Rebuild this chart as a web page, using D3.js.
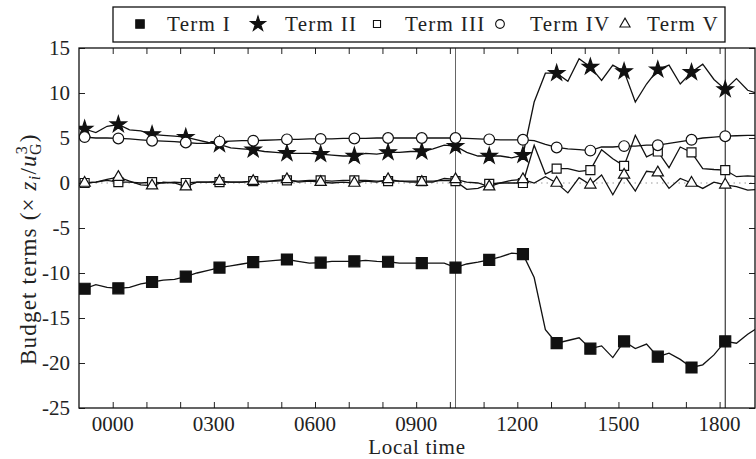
<!DOCTYPE html>
<html>
<head>
<meta charset="utf-8">
<script src="https://cdn.jsdelivr.net/npm/d3@7"></script>
<style>
  body { margin: 0; background: #fff; }
  svg { font-family: "Liberation Serif", "DejaVu Serif", serif; }
</style>
</head>
<body>
<svg id="chart" width="756" height="459"></svg>
<script>
// local time in hours (negative = previous evening), 20 min steps
const times = [-0.833, -0.5, -0.167, 0.167, 0.5, 0.833, 1.167, 1.5, 1.833, 2.167, 2.5, 2.833,
  3.167, 3.5, 3.833, 4.167, 4.5, 4.833, 5.167, 5.5, 5.833, 6.167, 6.5, 6.833,
  7.167, 7.5, 7.833, 8.167, 8.5, 8.833, 9.167, 9.5, 9.833, 10.167, 10.5, 10.833,
  11.167, 11.5, 11.833, 12.167, 12.5, 12.833, 13.167, 13.5, 13.833, 14.167, 14.5, 14.833,
  15.167, 15.5, 15.833, 16.167, 16.5, 16.833, 17.167, 17.5, 17.833, 18.167, 18.5, 18.833, 19.167]

const termI = [-11.75, -11.3, -11.6, -11.7, -11.6, -11.2, -11.0, -10.8, -10.7, -10.4, -10.0, -9.7,
  -9.4, -9.2, -9.0, -8.8, -8.7, -8.6, -8.5, -8.7, -8.9, -8.85, -8.7, -8.7,
  -8.7, -8.6, -8.7, -8.75, -8.9, -8.9, -8.9, -8.9, -8.9, -9.4, -9.0, -8.8,
  -8.55, -8.2, -7.8, -7.9, -10.5, -16.3, -17.8, -17.5, -17.2, -18.4, -18.1, -19.4,
  -17.6, -18.4, -17.9, -19.3, -18.9, -19.6, -20.5, -20.2, -19.1, -17.6, -17.8, -16.8, -16.0]

const termII = [6.0, 5.6, 6.3, 6.5, 5.9, 5.8, 5.4, 5.3, 5.2, 5.1, 4.8, 4.5,
  4.3, 3.9, 3.8, 3.7, 3.5, 3.4, 3.3, 3.3, 3.3, 3.2, 3.1, 3.0,
  3.0, 3.3, 3.2, 3.4, 3.4, 3.5, 3.5, 3.8, 4.2, 4.1, 3.4, 3.0,
  3.0, 3.0, 2.8, 3.1, 9.0, 12.2, 12.2, 11.3, 13.8, 12.9, 11.4, 13.1,
  12.4, 9.0, 11.0, 12.6, 13.1, 11.0, 12.3, 13.2, 11.5, 10.4, 11.6, 10.3, 9.9]

const termIII = [0.0, 0.1, 0.3, 0.1, 0.1, 0.0, 0.1, 0.0, 0.1, 0.0, 0.1, 0.1,
  0.1, 0.1, 0.1, 0.2, 0.2, 0.2, 0.3, 0.2, 0.3, 0.3, 0.2, 0.3,
  0.3, 0.3, 0.2, 0.2, 0.2, 0.2, 0.2, 0.2, 0.3, 0.2, -0.7, -0.6,
  -0.1, 0.0, 0.0, 0.0, 4.2, 1.0, 1.6, 1.6, 1.3, 1.44, 3.7, 2.7,
  1.9, 5.3, 2.9, 3.5, 1.7, 4.0, 3.4, 1.6, 1.5, 1.44, 0.7, 0.8, 0.7]

const termIV = [5.1, 5.0, 5.0, 4.95, 4.9, 4.8, 4.7, 4.65, 4.6, 4.5, 4.4, 4.4,
  4.6, 4.65, 4.7, 4.7, 4.75, 4.8, 4.85, 4.85, 4.9, 4.9, 4.9, 4.95,
  4.95, 4.95, 5.0, 5.0, 5.0, 5.0, 5.0, 5.0, 5.0, 5.0, 4.95, 4.9,
  4.85, 4.8, 4.8, 4.8, 4.7, 4.3, 3.95, 3.8, 3.7, 3.6, 4.0, 4.0,
  4.1, 4.1, 4.2, 4.2, 4.4, 4.6, 4.8, 5.0, 5.1, 5.2, 5.25, 5.3, 5.3]

const termV = [0.0, 0.1, 0.4, 0.65, 0.2, -0.2, -0.3, 0.1, 0.0, -0.4, 0.1, 0.1,
  0.2, 0.1, 0.1, 0.2, 0.1, 0.3, 0.4, 0.1, 0.2, 0.1, 0.0, 0.1,
  0.0, 0.2, 0.1, 0.4, 0.2, 0.1, 0.1, 0.1, 0.5, 0.4, 0.1, 0.0,
  -0.4, 0.0, 0.3, 0.4, 0.0, 0.7, 0.0, -1.1, 0.6, -0.2, 0.9, -1.3,
  0.9, -0.9, 1.3, 1.15, -0.6, 0.5, 0.0, -0.6, 0.1, -0.2, -0.4, -0.8, -0.7]

const seriesNames = ["Term I", "Term II", "Term III", "Term IV", "Term V"]
const seriesValues = [termI, termII, termIII, termIV, termV]
const xTickHours = [0, 3, 6, 9, 12, 15, 18]
const xTickLabels = ["0000", "0300", "0600", "0900", "1200", "1500", "1800"]
const yTicks = [-25, -20, -15, -10, -5, 0, 5, 10, 15]
const markedLines = [10.167, 18.167]

const margin = { top: 48, right: 1, bottom: 51, left: 79 }
const width = 756 - margin.left - margin.right
const height = 459 - margin.top - margin.bottom

const svg = d3.select("#chart")
const g = svg.append("g").attr("transform", `translate(${margin.left}, ${margin.top})`)

const x = d3.scaleLinear().domain([-1, 19.05]).range([0, width])
const y = d3.scaleLinear().domain([-25, 15]).range([height, 0])

g.append("clipPath").attr("id", "clip")
  .append("rect").attr("width", width).attr("height", height)

// zero line
g.append("line")
  .attr("x1", 0).attr("x2", width)
  .attr("y1", y(0)).attr("y2", y(0))
  .attr("stroke", "#999").attr("stroke-width", 1.2)
  .attr("stroke-dasharray", "1.5,4")

// vertical markers
g.selectAll(".vline").data(markedLines).join("line")
  .attr("class", "vline")
  .attr("x1", d => x(d)).attr("x2", d => x(d))
  .attr("y1", 0).attr("y2", height)
  .attr("stroke", (d, i) => i === 0 ? "#666" : "#111")
  .attr("stroke-width", 1)

// axes, ticks inside on all sides
const tickLen = 6
g.append("g").attr("transform", `translate(0, ${height})`)
  .call(d3.axisBottom(x).tickValues(d3.range(0, 19)).tickSize(-tickLen).tickFormat(""))
g.append("g")
  .call(d3.axisTop(x).tickValues(d3.range(0, 19)).tickSize(-tickLen).tickFormat(""))
g.append("g")
  .call(d3.axisLeft(y).tickValues(yTicks).tickSize(-tickLen).tickFormat(""))
g.append("g").attr("transform", `translate(${width}, 0)`)
  .call(d3.axisRight(y).tickValues(yTicks).tickSize(-tickLen).tickFormat(""))
g.selectAll(".domain").remove()
g.selectAll(".tick line").attr("stroke", "#222").attr("stroke-width", 1)

g.append("rect")
  .attr("width", width).attr("height", height)
  .attr("fill", "none").attr("stroke", "#111").attr("stroke-width", 1.3)

g.selectAll(".xlab").data(xTickHours).join("text")
  .attr("class", "xlab")
  .attr("x", d => x(d)).attr("y", height + 23)
  .attr("text-anchor", "middle").attr("font-size", 21).attr("fill", "#222")
  .text((d, i) => xTickLabels[i])

g.selectAll(".ylab").data(yTicks).join("text")
  .attr("class", "ylab")
  .attr("x", -9).attr("y", d => y(d) + 7)
  .attr("text-anchor", "end").attr("font-size", 21).attr("fill", "#222")
  .text(d => d)

g.append("text")
  .attr("x", width / 2).attr("y", height + 46)
  .attr("text-anchor", "middle").attr("font-size", 21).attr("fill", "#222")
  .attr("letter-spacing", 0.7)
  .text("Local time")

// y title written from the bottom up
const yTitle = svg.append("text")
  .attr("transform", `translate(36, 365) rotate(-90)`)
  .attr("text-anchor", "start").attr("font-size", 23).attr("fill", "#222")
  .attr("letter-spacing", 1.2)
yTitle.append("tspan").text("Budget terms (× ")
yTitle.append("tspan").attr("font-style", "italic").text("z")
yTitle.append("tspan").attr("font-style", "italic").attr("font-size", 16).attr("dy", 4).text("i")
yTitle.append("tspan").attr("dy", -4).text("/")
yTitle.append("tspan").attr("font-style", "italic").text("u")
yTitle.append("tspan").attr("font-size", 16).attr("dy", -9).text("3")
yTitle.append("tspan").attr("font-size", 16).attr("dx", -10).attr("dy", 14).text("G")
yTitle.append("tspan").attr("dy", -5).text(")")

// lines
const line = d3.line()
  .x((d, i) => x(times[i]))
  .y(d => y(d))

const plot = g.append("g").attr("clip-path", "url(#clip)")
plot.selectAll(".series").data(seriesValues).join("path")
  .attr("class", "series")
  .attr("d", line)
  .attr("fill", "none")
  .attr("stroke", "#111")
  .attr("stroke-width", 1.3)

// markers
const markerStyles = [
  { type: d3.symbolSquare, size: 121, fill: "#111" },
  { type: d3.symbolStar, size: 80, fill: "#111" },
  { type: d3.symbolSquare, size: 81, fill: "#fff" },
  { type: d3.symbolCircle, size: 90, fill: "#fff" },
  { type: d3.symbolTriangle, size: 55, fill: "#fff" }
]

seriesValues.forEach((vals, s) => {
  const st = markerStyles[s]
  const pts = vals.map((v, i) => ({ t: times[i], v, i }))
    .filter(d => d.i % 3 === 0 && d.t <= 19.05)
  plot.selectAll(".m" + s).data(pts).join("path")
    .attr("class", "m" + s)
    .attr("transform", d => `translate(${x(d.t)}, ${y(d.v)})`)
    .attr("d", d3.symbol().type(st.type).size(st.size))
    .attr("fill", st.fill)
    .attr("stroke", "#111")
    .attr("stroke-width", 1.2)
})

// legend
const legendMarkers = [
  { type: d3.symbolSquare, size: 72, fill: "#111" },
  { type: d3.symbolStar, size: 70, fill: "#111" },
  { type: d3.symbolSquare, size: 50, fill: "#fff" },
  { type: d3.symbolCircle, size: 60, fill: "#fff" },
  { type: d3.symbolTriangle, size: 45, fill: "#fff" }
]
const legendMarkerX = [140, 258, 377, 500, 625]
const legendTextX = [167, 285, 405, 530, 647]

svg.append("rect")
  .attr("x", 113).attr("y", 7).attr("width", 612).attr("height", 35)
  .attr("fill", "#fff").attr("stroke", "#111").attr("stroke-width", 1.3)

const leg = svg.selectAll(".leg").data(seriesNames).join("g").attr("class", "leg")
leg.append("path")
  .attr("transform", (d, i) => `translate(${legendMarkerX[i]}, 24)`)
  .attr("d", (d, i) => d3.symbol().type(legendMarkers[i].type).size(legendMarkers[i].size)())
  .attr("fill", (d, i) => legendMarkers[i].fill)
  .attr("stroke", "#111").attr("stroke-width", 1.1)
leg.append("text")
  .attr("x", (d, i) => legendTextX[i]).attr("y", 31)
  .attr("font-size", 21).attr("fill", "#222")
  .attr("letter-spacing", 1.3)
  .text(d => d)
</script>
</body>
</html>
